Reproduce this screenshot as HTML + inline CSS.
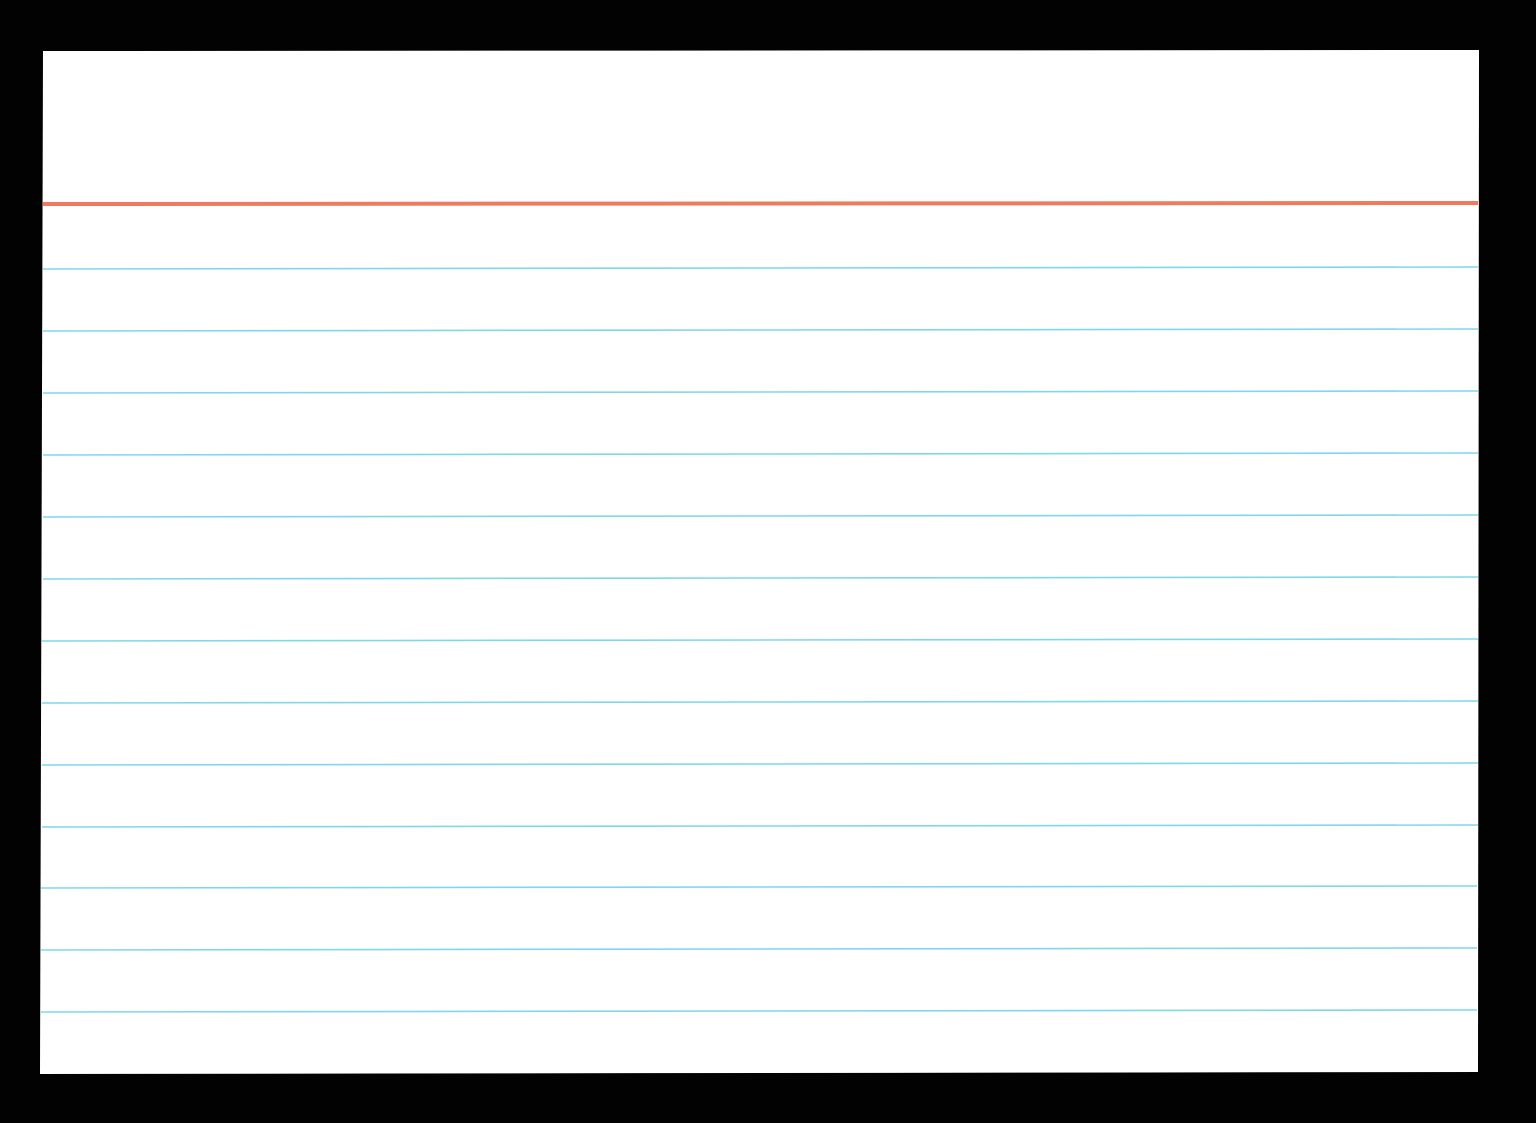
<!DOCTYPE html>
<html><head><meta charset="utf-8"><style>
html,body{margin:0;padding:0;background:#000;width:1536px;height:1123px;overflow:hidden}
svg{display:block}
</style></head><body>
<svg width="1536" height="1123" viewBox="0 0 1536 1123" xmlns="http://www.w3.org/2000/svg">
<rect x="0" y="0" width="1536" height="1123" fill="#020202"/>
<polygon points="43,51 1479,50 1478,1072 40,1074" fill="#ffffff"/>
<line x1="43" y1="204" x2="1478" y2="203" stroke="#f07a5e" stroke-width="4"/>
<g stroke="#7fd8ea" stroke-width="1.6">
<line x1="43" y1="269" x2="1478" y2="267"/>
<line x1="43" y1="331" x2="1478" y2="329"/>
<line x1="43" y1="393" x2="1478" y2="391"/>
<line x1="43" y1="455" x2="1478" y2="453"/>
<line x1="43" y1="517" x2="1478" y2="515"/>
<line x1="43" y1="579" x2="1478" y2="577"/>
<line x1="42" y1="641" x2="1478" y2="639"/>
<line x1="42" y1="703" x2="1478" y2="701"/>
<line x1="42" y1="765" x2="1478" y2="763"/>
<line x1="42" y1="827" x2="1478" y2="825"/>
<line x1="41" y1="888" x2="1477" y2="886"/>
<line x1="41" y1="950" x2="1477" y2="948"/>
<line x1="41" y1="1012" x2="1477" y2="1010"/>
</g>
</svg>
</body></html>
